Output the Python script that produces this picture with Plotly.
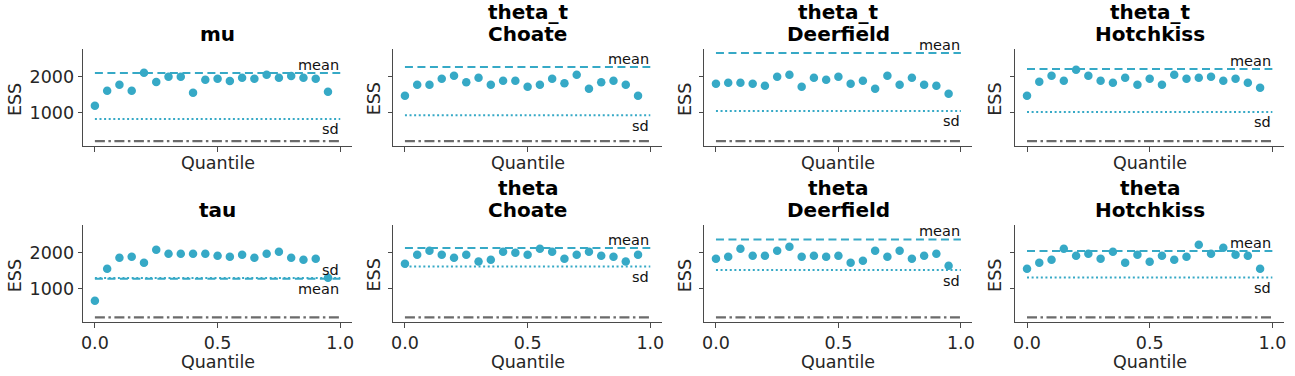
import plotly.graph_objects as go

# ---------------- data ----------------
quantiles = [round(0.05 * i, 2) for i in range(20)]

title_lines = [["mu"], ["theta_t", "Choate"], ["theta_t", "Deerfield"], ["theta_t", "Hotchkiss"],
               ["tau"], ["theta", "Choate"], ["theta", "Deerfield"], ["theta", "Hotchkiss"]]

ess_mu = [1194, 1611, 1778, 1611, 2111, 1852, 2000, 2000, 1556, 1917,
          1944, 1880, 1972, 1944, 2056, 1972, 2019, 1972, 1944, 1583]
ess_theta_t_choate = [1472, 1778, 1778, 1944, 2028, 1843, 1972, 1778, 1889, 1889,
                      1722, 1778, 1944, 1815, 2056, 1667, 1843, 1889, 1778, 1472]
ess_theta_t_deerfield = [1806, 1833, 1833, 1806, 1750, 2000, 2056, 1722, 1972, 1917,
                         2000, 1806, 1889, 1667, 2028, 1778, 1972, 1778, 1750, 1528]
ess_theta_t_hotchkiss = [1472, 1861, 2028, 1889, 2194, 2028, 1889, 1833, 1972, 1778,
                         1944, 1778, 2056, 1944, 1972, 2000, 1889, 1944, 1833, 1694]
ess_tau = [667, 1556, 1861, 1889, 1722, 2083, 1972, 1972, 1972, 1972,
           1917, 1889, 1944, 1861, 1972, 2028, 1861, 1806, 1833, 1306]
ess_theta_choate = [1694, 1944, 2056, 1944, 1861, 1944, 1759, 1806, 2028, 2000,
                    1944, 2111, 2028, 1833, 1944, 2028, 1917, 1889, 1759, 1944]
ess_theta_deerfield = [1833, 1889, 2111, 1917, 1917, 2056, 2167, 1889, 1917, 1889,
                       1917, 1722, 1778, 2056, 1889, 2056, 1833, 1917, 1972, 1639]
ess_theta_hotchkiss = [1556, 1722, 1806, 2111, 1917, 1972, 1833, 2028, 1722, 1944,
                       1750, 1917, 1806, 1889, 2222, 1972, 2139, 1944, 1917, 1556]

ess_series = [ess_mu, ess_theta_t_choate, ess_theta_t_deerfield, ess_theta_t_hotchkiss,
              ess_tau, ess_theta_choate, ess_theta_deerfield, ess_theta_hotchkiss]
ess_mean = [2102, 2269, 2657, 2213, 1282, 2130, 2370, 2046]
ess_sd = [824, 926, 1046, 1019, 1300, 1620, 1519, 1315]
min_ess = 210

x_ticks = [0.0, 0.5, 1.0]
x_ticklabels = ["0.0", "0.5", "1.0"]
y_ticks = [1000, 2000]
y_ticklabels = ["1000", "2000"]

# ---------------- layout ----------------
W, H = 1295, 376
FONT = "DejaVu Sans"
C0 = "#36a9c6"
GRAY = "#6b6b6b"
SPINE = "#4a4a4a"
TXT = "#262626"
TICK_FS = 17.5
LABEL_FS = 17.5
TITLE_FS = 20
NOTE_FS = 14.5

col_px = [(81.5, 351.0), (392.5, 662.0), (704.5, 973.5), (1016.5, 1286.0)]
row_px = [(49.3, 146.0), (225.3, 322.3)]
xr = [-0.0475, 1.0475]
yr = [72, 2762]

fig = go.Figure()
annotations = []

for i in range(8):
    r, c = divmod(i, 4)
    ax = "" if i == 0 else str(i + 1)
    xa, ya = "x" + ax, "y" + ax
    x0, x1 = col_px[c]
    t0, t1 = row_px[r]
    xdom = [x0 / W, x1 / W]
    ydom = [(H - t1) / H, (H - t0) / H]

    fig.add_trace(go.Scatter(x=quantiles, y=ess_series[i], mode="markers",
                             marker=dict(color=C0, size=8.5), xaxis=xa, yaxis=ya,
                             showlegend=False, hoverinfo="skip"))
    fig.add_trace(go.Scatter(x=[0, 1], y=[ess_mean[i]] * 2, mode="lines",
                             line=dict(color=C0, width=2, dash="8px,4.5px"),
                             xaxis=xa, yaxis=ya, showlegend=False))
    fig.add_trace(go.Scatter(x=[0, 1], y=[ess_sd[i]] * 2, mode="lines",
                             line=dict(color=C0, width=2, dash="2px,2.6px"),
                             xaxis=xa, yaxis=ya, showlegend=False))
    fig.add_trace(go.Scatter(x=[0, 1], y=[min_ess] * 2, mode="lines",
                             line=dict(color=GRAY, width=2.2, dash="10px,3.5px,2.5px,3.5px"),
                             xaxis=xa, yaxis=ya, showlegend=False))

    xkey = "xaxis" if i == 0 else "xaxis%d" % (i + 1)
    ykey = "yaxis" if i == 0 else "yaxis%d" % (i + 1)
    fig.layout[xkey] = dict(domain=xdom, anchor=ya, range=xr, showgrid=False, zeroline=False,
                            showline=True, linecolor=SPINE, linewidth=1.2,
                            ticks="outside", ticklen=4.5, tickcolor=SPINE, tickwidth=1.2,
                            tickvals=x_ticks, ticktext=x_ticklabels,
                            showticklabels=(r == 1),
                            tickfont=dict(family=FONT, size=TICK_FS, color=TXT))
    fig.layout[ykey] = dict(domain=ydom, anchor=xa, range=yr, showgrid=False, zeroline=False,
                            showline=True, linecolor=SPINE, linewidth=1.2,
                            ticks="outside", ticklen=4.5, tickcolor=SPINE, tickwidth=1.2,
                            tickvals=y_ticks, ticktext=y_ticklabels,
                            showticklabels=(c == 0),
                            tickfont=dict(family=FONT, size=TICK_FS, color=TXT))

    # mean / sd labels
    if ess_mean[i] >= ess_sd[i]:
        mean_anchor, sd_anchor = "bottom", "top"
    else:
        mean_anchor, sd_anchor = "top", "bottom"
    for val, lab, anc in ((ess_mean[i], "mean", mean_anchor), (ess_sd[i], "sd", sd_anchor)):
        annotations.append(dict(x=1, y=val, xref=xa, yref=ya, text=lab,
                                showarrow=False, xanchor="right", yanchor=anc,
                                font=dict(family=FONT, size=NOTE_FS, color="#111"),
                                borderpad=0, yshift=-1 if anc == "bottom" else -1.5))

    # subplot title (one annotation per line, bottom line baseline ~7px above axes)
    lines = title_lines[i]
    for k, line in enumerate(reversed(lines)):
        annotations.append(dict(x=(xdom[0] + xdom[1]) / 2, y=ydom[1], xref="paper", yref="paper",
                                text="<b>%s</b>" % line, showarrow=False,
                                xanchor="center", yanchor="bottom", borderpad=0,
                                yshift=2.0 + 22.5 * k,
                                font=dict(family=FONT, size=TITLE_FS, color="#000")))
    # axis titles
    ess_x = [13.0, 373.3, 685.0, 996.7][c]
    annotations.append(dict(x=ess_x / W, y=(H - (t0 + t1) / 2 - 1.5) / H, xref="paper", yref="paper",
                            text="ESS", textangle=-90, showarrow=False,
                            xanchor="center", yanchor="middle",
                            font=dict(family=FONT, size=LABEL_FS, color=TXT)))
    q_y = [163.3, 361.7][r]
    annotations.append(dict(x=(xdom[0] + xdom[1]) / 2, y=(H - q_y) / H, xref="paper", yref="paper",
                            text="Quantile", showarrow=False,
                            xanchor="center", yanchor="middle",
                            font=dict(family=FONT, size=LABEL_FS, color=TXT)))

fig.update_layout(width=W, height=H, margin=dict(l=0, r=0, t=0, b=0),
                  paper_bgcolor="white", plot_bgcolor="white",
                  annotations=annotations, font=dict(family=FONT))

fig.write_html("out.html", config={"displayModeBar": False},
               post_script="document.body.style.margin='0';document.body.style.overflow='hidden';")
